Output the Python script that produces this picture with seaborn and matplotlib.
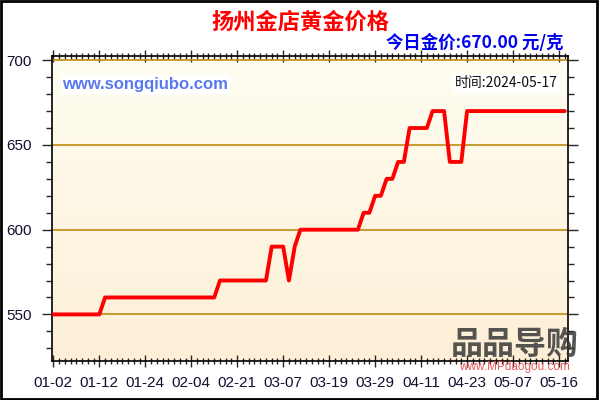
import numpy as np
import pandas as pd
import matplotlib
matplotlib.use('Agg')
import matplotlib.pyplot as plt
from matplotlib.ticker import MultipleLocator
import seaborn as sns

# gold price (yuan/gram), one value per trading record
prices = [550, 550, 550, 550, 550, 550, 550, 550, 550,
          560, 560, 560, 560, 560, 560, 560, 560, 560, 560,
          560, 560, 560, 560, 560, 560, 560, 560, 560, 560,
          570, 570, 570, 570, 570, 570, 570, 570, 570,
          590, 590, 590, 570, 590,
          600, 600, 600, 600, 600, 600, 600, 600, 600, 600, 600,
          610, 610, 620, 620, 630, 630, 640, 640,
          660, 660, 660, 660, 670, 670, 670, 640, 640, 640,
          670, 670, 670, 670, 670, 670, 670, 670, 670,
          670, 670, 670, 670, 670, 670, 670, 670, 670]
tick_labels = ['01-02', '01-12', '01-24', '02-04', '02-21', '03-07',
               '03-19', '03-29', '04-11', '04-23', '05-07', '05-16']
y_ticks = [550, 600, 650, 700]

title = '扬州金店黄金价格'
subtitle = '今日金价:670.00 元/克'
site = 'www.songqiubo.com'
date_text = '时间:2024-05-17'

df = pd.DataFrame({'idx': np.arange(len(prices)), 'price': prices})

sns.set_style('white')
plt.rcParams['font.family'] = ['Liberation Sans', 'Noto Sans CJK SC', 'DejaVu Sans']
cjk = ['Noto Sans CJK SC', 'DejaVu Sans']

fig = plt.figure(figsize=(6, 4), dpi=100)
fig.patch.set_facecolor('white')
ax = fig.add_axes([0.087, 0.0975, 0.86, 0.7625])

xlo, xhi = -0.2, len(prices) - 0.4
ylo, yhi = 522.5, 702.5

# warm vertical gradient background
grad = np.linspace(0, 1, 256).reshape(-1, 1)
top_c = np.array([1.0, 0.996, 0.95])
bot_c = np.array([0.992, 0.937, 0.84])
img = top_c + (bot_c - top_c) * grad[:, :, None] * np.ones((1, 2, 1))
ax.imshow(img, extent=[xlo, xhi, ylo, yhi], aspect='auto', origin='upper', zorder=0)

for v in y_ticks:
    ax.axhline(v, color='#C08A10', lw=1.2, zorder=1)

sns.lineplot(data=df, x='idx', y='price', ax=ax, color='#FF0000', lw=2.8, zorder=3)

ax.set_xlim(xlo, xhi)
ax.set_ylim(ylo, yhi)
ax.set_xlabel('')
ax.set_ylabel('')

ax.set_xticks(np.arange(0, len(prices), 8))
ax.set_xticklabels(tick_labels)
ax.xaxis.set_minor_locator(MultipleLocator(1))
ax.set_yticks(y_ticks)
ax.yaxis.set_minor_locator(MultipleLocator(10))

ax.tick_params(axis='x', which='major', direction='inout', length=9, width=1,
               top=True, bottom=True, labelsize=11, labelcolor='#101030', pad=6)
ax.tick_params(axis='x', which='minor', direction='inout', length=5, width=1,
               top=True, bottom=True)
ax.tick_params(axis='y', which='major', direction='out', length=7, width=1,
               left=True, right=True, labelsize=11, labelcolor='#101030', pad=8)
ax.tick_params(axis='y', which='minor', direction='out', length=4, width=1,
               left=True, right=True)
for s in ax.spines.values():
    s.set_visible(True)
    s.set_color('black')
    s.set_linewidth(1.2)

fig.text(0.5, 0.945, title, ha='center', va='center', fontsize=16,
         fontweight='bold', color='#FF0000', family=cjk)
fig.text(0.94, 0.893, subtitle, ha='right', va='center', fontsize=12.5,
         fontweight='bold', color='#0000EE', family=cjk)

ax.text(0.02, 0.905, site, transform=ax.transAxes, ha='left', va='center',
        fontsize=12, fontweight='bold', color='#5A78F0',
        bbox=dict(facecolor='white', edgecolor='none', pad=1.5))
ax.text(0.98, 0.91, date_text, transform=ax.transAxes, ha='right', va='center',
        fontsize=10, color='#111111', family=cjk,
        bbox=dict(facecolor='white', edgecolor='none', pad=1.5))

# watermark
fig.text(0.858, 0.137, '品品导购', ha='center', va='center', fontsize=23,
         fontweight='bold', color='#383838', alpha=0.85, family=cjk, zorder=5)
fig.text(0.858, 0.083, 'www.MPdaogou.com', ha='center', va='center', fontsize=8.5,
         color='#E84848', alpha=0.9, zorder=5)

# outer frame
fig.add_artist(plt.Rectangle((0.002, 0.003), 0.993, 0.994, transform=fig.transFigure,
                             fill=False, edgecolor='black', lw=2))

fig.savefig('out.png', dpi=100)
